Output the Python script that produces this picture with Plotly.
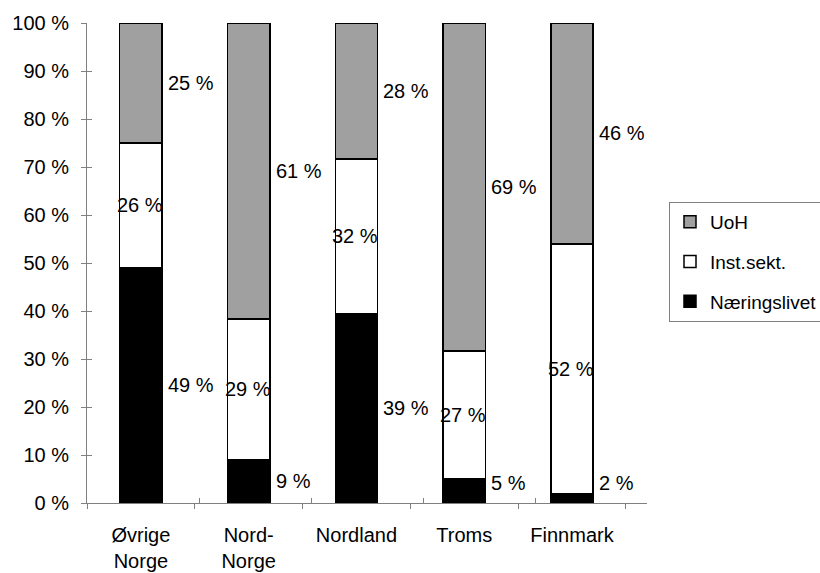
import plotly.graph_objects as go

categories = ["Øvrige<br>Norge", "Nord-<br>Norge", "Nordland", "Troms", "Finnmark"]
naeringslivet = [49, 9, 39, 5, 2]
inst_sekt = [26, 29, 32, 27, 52]
uoh = [25, 61, 28, 69, 46]
y_ticks = [0, 10, 20, 30, 40, 50, 60, 70, 80, 90, 100]

FONT = "Liberation Sans, Arial, sans-serif"
W, H = 820, 573
ML, MR, MT, MB = 87, 173, 23, 70
BARGAP = 0.607
FS = 20

fig = go.Figure()
series = [
    ("Næringslivet", naeringslivet, "#000000", 3),
    ("Inst.sekt.", inst_sekt, "#ffffff", 2),
    ("UoH", uoh, "#a0a0a0", 1),
]
for name, vals, col, rank in series:
    fig.add_trace(go.Bar(
        x=categories, y=vals, name=name, legendgroup=name, legendrank=rank,
        marker=dict(color=col, line=dict(color="#000000", width=1.5)),
        hoverinfo="skip",
    ))

# annotations
n = len(categories)
plot_w = W - ML - MR
half_bar = plot_w / n * (1 - BARGAP) / 2
annots = []
for i, cat in enumerate(categories):
    tot = naeringslivet[i] + inst_sekt[i] + uoh[i]
    b = naeringslivet[i] / tot * 100
    w = inst_sekt[i] / tot * 100
    g = uoh[i] / tot * 100
    segs = [
        (naeringslivet[i], max(b / 2, 4.2), "left"),
        (inst_sekt[i], b + w / 2, "right"),
        (uoh[i], b + w + g / 2, "left"),
    ]
    for val, yy, anc in segs:
        annots.append(dict(
            x=cat, y=yy, xref="x", yref="y", text=f"{val} %", showarrow=False,
            xanchor=anc, yanchor="middle",
            xshift=half_bar + (3 if anc == "left" else 2),
            font=dict(family=FONT, size=FS, color="#000000"),
        ))

fig.update_layout(
    width=W, height=H,
    barmode="stack", barnorm="percent", bargap=BARGAP,
    plot_bgcolor="white", paper_bgcolor="white",
    margin=dict(l=ML, r=MR, t=MT, b=MB, autoexpand=False),
    font=dict(family=FONT, size=FS, color="#000000"),
    showlegend=True,
    legend=dict(
        x=(669 - ML) / plot_w, xanchor="left",
        y=1 - (202 - MT) / (H - MT - MB), yanchor="top",
        bordercolor="#808080", borderwidth=1, bgcolor="white",
        traceorder="grouped", tracegroupgap=12,
        font=dict(family=FONT, size=19, color="#000000"),
        itemwidth=30,
    ),
    xaxis=dict(
        type="category", showline=True, linecolor="#808080", linewidth=1,
        ticks="outside", ticklen=5, tickcolor="#808080", tickson="boundaries",
        showgrid=False, ticklabelstandoff=14,
        tickfont=dict(family=FONT, size=FS),
    ),
    yaxis=dict(
        range=[0, 100], tickvals=y_ticks, ticktext=[f"{v} %" for v in y_ticks],
        showline=True, linecolor="#808080", linewidth=1,
        ticks="outside", ticklen=5, tickcolor="#808080",
        showgrid=False, zeroline=False, ticklabelstandoff=8,
        tickfont=dict(family=FONT, size=FS),
    ),
    xaxis2=dict(
        overlaying="x", range=[-0.5, n - 0.5], tickvals=[k - 0.5 for k in range(n + 1)],
        ticks="inside", ticklen=5, tickcolor="#808080", showticklabels=False,
        showgrid=False, zeroline=False, showline=False, side="bottom",
    ),
    yaxis2=dict(
        overlaying="y", range=[0, 100], tickvals=y_ticks,
        ticks="inside", ticklen=5, tickcolor="#808080", showticklabels=False,
        showgrid=False, zeroline=False, showline=False, side="left",
    ),
    annotations=annots,
)
# invisible trace to activate overlay axes
fig.add_trace(go.Scatter(x=[0], y=[0], xaxis="x2", yaxis="y2", mode="markers",
                         marker=dict(opacity=0), showlegend=False, hoverinfo="skip"))

fig.write_html("out.html")
